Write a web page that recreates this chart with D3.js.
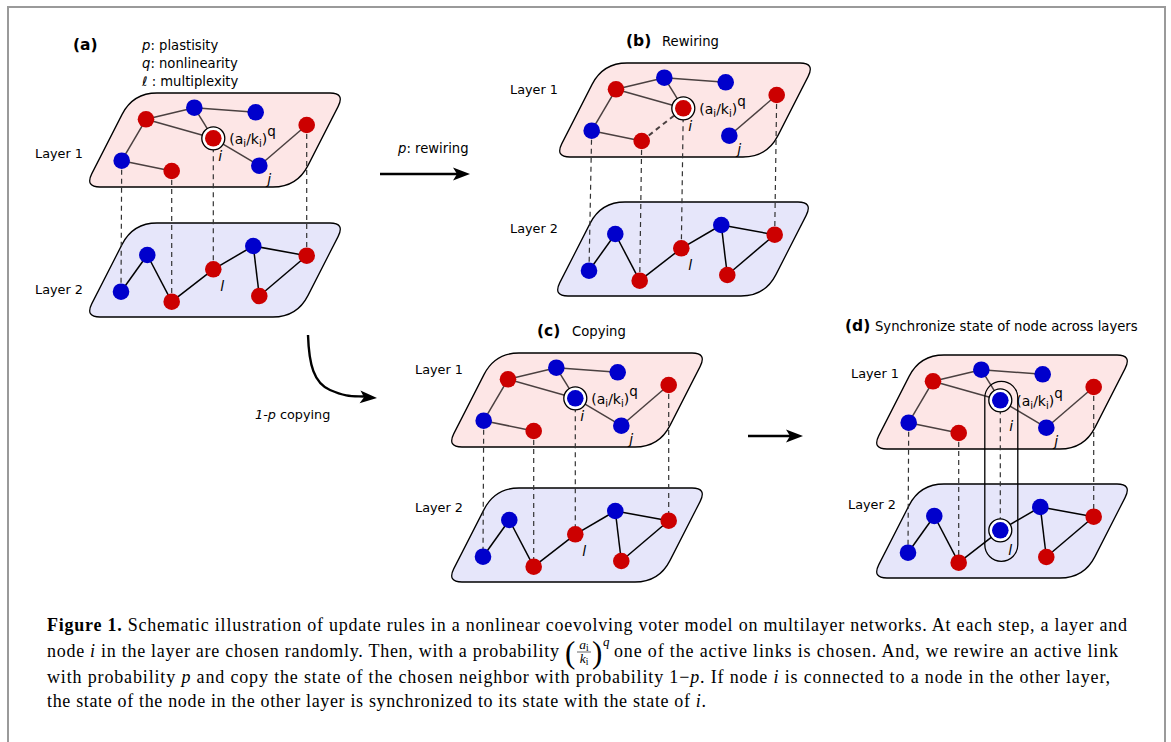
<!DOCTYPE html>
<html><head><meta charset="utf-8">
<script src="https://cdn.jsdelivr.net/npm/d3@7"></script>
<style>body{margin:0;background:#fff}svg{display:block}</style>
</head><body><svg id="fig" width="1171" height="742"></svg>
<script>
// ---------- data ----------
const layer1Ids   = ["n1","n2","n3","n4","n5","n6","n7","n8"];
const layer1U     = [60, 108.3, 169.7, 127.3, 220.7, 35.7, 85.7, 173.3];
const layer1V     = [26.3, 14.7, 19.3, 45.3, 32, 67.7, 78, 72.7];
const layer1State = ["r","b","b","r","r","b","r","b"];
const layer2Ids   = ["m1","m2","m3","m4","m5","m6","m7"];
const layer2U     = [35, 61.3, 85.7, 127.3, 167.3, 220.7, 173.3];
const layer2V     = [68.7, 32, 78.7, 46.3, 23, 32.7, 73];
const layer2State = ["b","b","r","r","b","r","r"];
const layer1Edges = [["n6","n1"],["n1","n2"],["n2","n3"],["n1","n4"],["n2","n4"],["n4","n8"],["n8","n5"],["n6","n7"]];
const layer2Edges = [["m1","m2"],["m2","m3"],["m3","m4"],["m4","m5"],["m5","m6"],["m5","m7"],["m7","m6"]];
const interEdges  = [["n6","m1"],["n7","m3"],["n4","m4"],["n5","m6"]];
const panelKeys   = ["(a)","(b)","(c)","(d)"];
const panelTitles = ["","Rewiring","Copying","Synchronize state of node across layers"];
const focalStateI = ["r","r","b","b"];   // state of node i per panel
const focalStateL = ["r","r","r","b"];   // state of node l per panel
const legendSym   = ["p","q","ℓ "];
const legendText  = [": plastisity",": nonlinearity",": multiplexity"];
const layerNames  = ["Layer 1","Layer 2"];
const captionLines = [
  [["b","Figure 1."],["n"," Schematic illustration of update rules in a nonlinear coevolving voter model on multilayer networks. At each step, a layer and"]],
  [["n","node "],["i","i"],["n"," in the layer are chosen randomly. Then, with a probability"]],
  [["n","with probability "],["i","p"],["n"," and copy the state of the chosen neighbor with probability 1\u2212"],["i","p"],["n",". If node "],["i","i"],["n"," is connected to a node in the other layer,"]],
  [["n","the state of the node in the other layer is synchronized to its state with the state of "],["i","i"],["n","."]]
];
const captionLine2b = "one of the active links is chosen. And, we rewire an active link";

// ---------- layout ----------
const svg = d3.select("#fig");
const SANS = "DejaVu Sans", SERIF = "Liberation Serif";
const RED = "#cc0000", BLUE = "#0000cc";
svg.append("rect").attr("x",8).attr("y",7).attr("width",1157).attr("height",800)
   .attr("fill","none").attr("stroke","#9a9a9a").attr("stroke-width",2);

const panelGeom = [
  {l1:[86,93],  l2:[86,223],  lab1:[35,153], lab2:[35,289], title:[73,45],  tdx:0},
  {l1:[556,63], l2:[554,202], lab1:[510,89], lab2:[510,228], title:[626,41], tdx:36},
  {l1:[448,353],l2:[448,488], lab1:[415,369],lab2:[415,507], title:[537,331],tdx:35},
  {l1:[873,355],l2:[873,484], lab1:[851,373],lab2:[848,504], title:[845,326],tdx:30}
];
const shapeU = [47,259,211,-1], shapeV=[0,0,94,94], cornerD=[24,15,24,15];

function layerPath(sx, sy){
  const P = shapeU.map((u,k)=>[sx(u), sy(shapeV[k])]);
  const n = P.length; let d = "";
  for(let k=0;k<n;k++){
    const c=P[k], pr=P[(k+n-1)%n], nx=P[(k+1)%n];
    const u1=[pr[0]-c[0],pr[1]-c[1]], l1=Math.hypot(...u1);
    const u2=[nx[0]-c[0],nx[1]-c[1]], l2=Math.hypot(...u2);
    const a=[c[0]+u1[0]/l1*cornerD[k], c[1]+u1[1]/l1*cornerD[k]];
    const b=[c[0]+u2[0]/l2*cornerD[k], c[1]+u2[1]/l2*cornerD[k]];
    d += (k===0?"M":"L")+a[0]+","+a[1]+" Q"+c[0]+","+c[1]+" "+b[0]+","+b[1]+" ";
  }
  return d+"Z";
}

function aikText(g, x, y){
  const t = g.append("text").attr("x",x).attr("y",y).attr("font-family",SANS).attr("font-size",14).attr("fill","#000");
  t.append("tspan").text("(a");
  t.append("tspan").attr("font-size",10).attr("dy",3).text("i");
  t.append("tspan").attr("dy",-3).text("/k");
  t.append("tspan").attr("font-size",10).attr("dy",3).text("i");
  t.append("tspan").attr("dy",-3).text(")");
  t.append("tspan").attr("font-size",13.5).attr("dy",-8).text("q");
}

panelKeys.forEach((key, p)=>{
  const G = panelGeom[p];
  const g = svg.append("g");
  const sx1 = d3.scaleLinear().domain([0,100]).range([G.l1[0], G.l1[0]+100]);
  const sy1 = d3.scaleLinear().domain([0,100]).range([G.l1[1], G.l1[1]+100]);
  const sx2 = d3.scaleLinear().domain([0,100]).range([G.l2[0], G.l2[0]+100]);
  const sy2 = d3.scaleLinear().domain([0,100]).range([G.l2[1], G.l2[1]+100]);
  const nodes = {};
  layer1Ids.forEach((id,k)=>{ nodes[id] = {x:sx1(layer1U[k]), y:sy1(layer1V[k]), s: id==="n4"?focalStateI[p]:layer1State[k]}; });
  layer2Ids.forEach((id,k)=>{ nodes[id] = {x:sx2(layer2U[k]), y:sy2(layer2V[k]), s: id==="m4"?focalStateL[p]:layer2State[k]}; });

  g.append("path").attr("d",layerPath(sx1,sy1)).attr("fill","#fde6e6").attr("stroke","#000").attr("stroke-width",1.3);
  g.append("path").attr("d",layerPath(sx2,sy2)).attr("fill","#e6e6fa").attr("stroke","#000").attr("stroke-width",1.3);

  g.selectAll(".inter").data(interEdges).enter().append("line")
    .attr("x1",d=>nodes[d[0]].x).attr("y1",d=>nodes[d[0]].y)
    .attr("x2",d=>nodes[d[1]].x).attr("y2",d=>nodes[d[1]].y)
    .attr("stroke","#333").attr("stroke-width",1.2).attr("stroke-dasharray","5,4");

  let e1 = layer1Edges;
  if(p===1) e1 = layer1Edges.filter(e=>!(e[0]==="n4"&&e[1]==="n8"));
  g.selectAll(".e1").data(e1).enter().append("line")
    .attr("x1",d=>nodes[d[0]].x).attr("y1",d=>nodes[d[0]].y)
    .attr("x2",d=>nodes[d[1]].x).attr("y2",d=>nodes[d[1]].y)
    .attr("stroke","#4a4040").attr("stroke-width",1.5);
  if(p===1){
    g.append("line").attr("x1",nodes.n7.x).attr("y1",nodes.n7.y).attr("x2",nodes.n4.x).attr("y2",nodes.n4.y)
     .attr("stroke","#4a4040").attr("stroke-width",2).attr("stroke-dasharray","5,4");
  }
  g.selectAll(".e2").data(layer2Edges).enter().append("line")
    .attr("x1",d=>nodes[d[0]].x).attr("y1",d=>nodes[d[0]].y)
    .attr("x2",d=>nodes[d[1]].x).attr("y2",d=>nodes[d[1]].y)
    .attr("stroke","#000").attr("stroke-width",1.5);

  if(p===3){
    g.append("rect").attr("x",nodes.n4.x-15.5).attr("y",nodes.n4.y-19).attr("width",33)
     .attr("height",(nodes.m4.y-nodes.n4.y)+50).attr("rx",16.5)
     .attr("fill","none").attr("stroke","#000").attr("stroke-width",1.3);
  }
  const ringed = p===3 ? ["n4","m4"] : ["n4"];
  ringed.forEach(id=>{
    g.append("circle").attr("cx",nodes[id].x).attr("cy",nodes[id].y).attr("r",11.5)
     .attr("fill","#fff").attr("stroke","#000").attr("stroke-width",1.3);
  });
  const all = layer1Ids.concat(layer2Ids);
  g.selectAll(".nd").data(all).enter().append("circle")
    .attr("cx",d=>nodes[d].x).attr("cy",d=>nodes[d].y).attr("r",8.3)
    .attr("fill",d=>nodes[d].s==="r"?RED:BLUE);

  const lab = (x,y,txt,opt={})=>g.append("text").attr("x",x).attr("y",y).attr("dominant-baseline","central")
      .attr("font-family",SANS).attr("font-size",opt.size||13).attr("font-weight",opt.w||"normal")
      .attr("font-style",opt.it?"italic":"normal").attr("fill","#000").text(txt);
  lab(G.lab1[0],G.lab1[1],layerNames[0],{size:12.8});
  lab(G.lab2[0],G.lab2[1],layerNames[1],{size:12.8});
  lab(G.title[0],G.title[1],key,{size:15.5,w:"bold"});
  if(panelTitles[p]) lab(G.title[0]+G.tdx,G.title[1],panelTitles[p],{size:13.2});

  aikText(g, nodes.n4.x+16, nodes.n4.y+6);
  const iDy = p===3 ? 26 : 18;
  lab(nodes.n4.x+5+(p===3?4:0), nodes.n4.y+iDy, "i", {it:true, size:14});
  lab(nodes.n8.x+8, nodes.n8.y+13, "j", {it:true, size:14});
  lab(nodes.m4.x+7+(p===3?1:0), nodes.m4.y+17+(p===3?3:0), "l", {it:true, size:14});
});

legendSym.forEach((s,k)=>{
  const t = svg.append("text").attr("x",142).attr("y",45+k*18).attr("dominant-baseline","central")
    .attr("font-family",SANS).attr("font-size",13.2).attr("fill","#000");
  t.append("tspan").attr("font-style",k<2?"italic":"normal").text(s);
  t.append("tspan").text(legendText[k]);
});

function arrowHead(x,y,ang){
  const L=17, W=6.5, N=4;
  const pts = [[0,0],[-L,-W],[-L+N,0],[-L,W]].map(([a,b])=>[x+a*Math.cos(ang)-b*Math.sin(ang), y+a*Math.sin(ang)+b*Math.cos(ang)]);
  svg.append("path").attr("d","M"+pts.map(q=>q.join(",")).join("L")+"Z").attr("fill","#000");
}
svg.append("line").attr("x1",380).attr("y1",174).attr("x2",460).attr("y2",174).attr("stroke","#000").attr("stroke-width",2.4);
arrowHead(470,174,0);
const ta = svg.append("text").attr("x",398).attr("y",148).attr("dominant-baseline","central").attr("font-family",SANS).attr("font-size",13.2);
ta.append("tspan").attr("font-style","italic").text("p");
ta.append("tspan").text(": rewiring");

svg.append("line").attr("x1",748).attr("y1",436).attr("x2",794).attr("y2",436).attr("stroke","#000").attr("stroke-width",2.4);
arrowHead(803,436,0);

svg.append("path").attr("d","M308,335 C309,365 314,383 330,390 S352,396 364,396.5").attr("fill","none").attr("stroke","#000").attr("stroke-width",2.4);
arrowHead(377,398,Math.atan2(2,30));
const tc = svg.append("text").attr("x",255).attr("y",414).attr("dominant-baseline","central").attr("font-family",SANS).attr("font-size",12.8);
tc.append("tspan").attr("font-style","italic").text("1-p");
tc.append("tspan").text(" copying");

// caption
const capY = [631, 657, 683, 707];
const capLen = [1080, 512, 1063, 659];
captionLines.forEach((segs,k)=>{
  const t = svg.append("text").attr("x",47).attr("y",capY[k]).attr("font-family",SERIF).attr("font-size",18)
    .attr("fill","#000").attr("textLength",capLen[k]).attr("lengthAdjust","spacing");
  segs.forEach(([st,tx])=>{
    t.append("tspan").attr("font-weight",st==="b"?"bold":"normal").attr("font-style",st==="i"?"italic":"normal").text(tx);
  });
});
svg.append("text").attr("x",614).attr("y",capY[1]).attr("font-family",SERIF).attr("font-size",18)
  .attr("textLength",504).attr("lengthAdjust","spacing").text(captionLine2b);
const fx = 584;
svg.append("text").attr("x",565).attr("y",capY[1]+6).attr("font-family",SERIF).attr("font-size",31).text("(");
svg.append("text").attr("x",592).attr("y",capY[1]+6).attr("font-family",SERIF).attr("font-size",31).text(")");
const fa = svg.append("text").attr("x",fx).attr("y",capY[1]-8).attr("text-anchor","middle").attr("font-family",SERIF).attr("font-size",13.5);
fa.append("tspan").attr("font-style","italic").text("a");
fa.append("tspan").attr("font-size",9.5).attr("dy",2).text("i");
svg.append("line").attr("x1",fx-7).attr("x2",fx+7).attr("y1",capY[1]-5).attr("y2",capY[1]-5).attr("stroke","#000").attr("stroke-width",0.6);
const fk = svg.append("text").attr("x",fx).attr("y",capY[1]+6).attr("text-anchor","middle").attr("font-family",SERIF).attr("font-size",13.5);
fk.append("tspan").attr("font-style","italic").text("k");
fk.append("tspan").attr("font-size",9.5).attr("dy",2).text("i");
svg.append("text").attr("x",603).attr("y",capY[1]-11).attr("font-family",SERIF).attr("font-style","italic").attr("font-size",13).text("q");
</script></body></html>
